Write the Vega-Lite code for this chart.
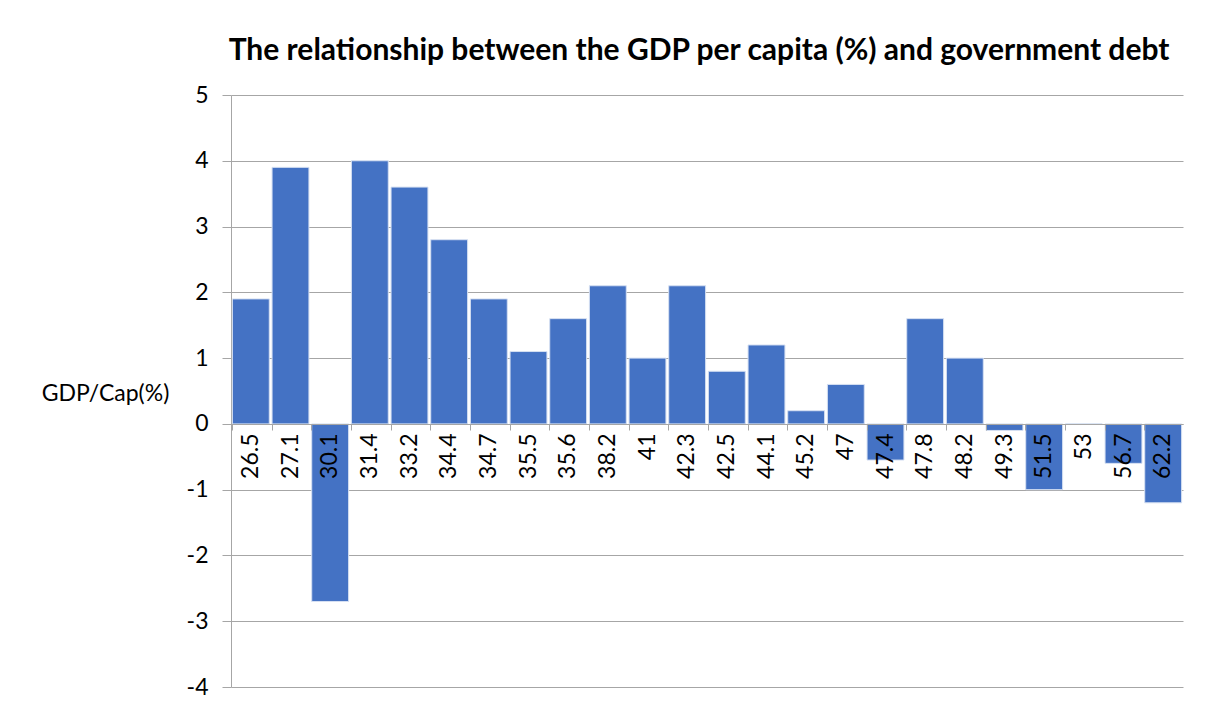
{
  "$schema": "https://vega.github.io/schema/vega-lite/v6.json",
  "autosize": "none",
  "width": 952,
  "height": 592,
  "padding": {"left": 231, "top": 95, "right": 29, "bottom": 28},
  "background": "white",
  "config": {
    "view": {"stroke": null},
    "font": "Lato"
  },
  "title": {
    "text": "The relationship between the GDP per capita (%) and government debt",
    "font": "Lato",
    "fontSize": 30,
    "fontWeight": "bold",
    "color": "#000000",
    "anchor": "middle",
    "dx": -8,
    "offset": 18
  },
  "data": {
    "values": [
      {"debt": "26.5", "gdp": 1.9},
      {"debt": "27.1", "gdp": 3.9},
      {"debt": "30.1", "gdp": -2.7},
      {"debt": "31.4", "gdp": 4.0},
      {"debt": "33.2", "gdp": 3.6},
      {"debt": "34.4", "gdp": 2.8},
      {"debt": "34.7", "gdp": 1.9},
      {"debt": "35.5", "gdp": 1.1},
      {"debt": "35.6", "gdp": 1.6},
      {"debt": "38.2", "gdp": 2.1},
      {"debt": "41", "gdp": 1.0},
      {"debt": "42.3", "gdp": 2.1},
      {"debt": "42.5", "gdp": 0.8},
      {"debt": "44.1", "gdp": 1.2},
      {"debt": "45.2", "gdp": 0.2},
      {"debt": "47", "gdp": 0.6},
      {"debt": "47.4", "gdp": -0.55},
      {"debt": "47.8", "gdp": 1.6},
      {"debt": "48.2", "gdp": 1.0},
      {"debt": "49.3", "gdp": -0.1},
      {"debt": "51.5", "gdp": -1.0},
      {"debt": "53", "gdp": 0},
      {"debt": "56.7", "gdp": -0.6},
      {"debt": "62.2", "gdp": -1.2}
    ]
  },
  "mark": {"type": "bar", "color": "#4472C4", "stroke": "#D6E0F2", "strokeWidth": 1},
  "encoding": {
    "x": {
      "field": "debt",
      "type": "nominal",
      "sort": null,
      "scale": {"paddingInner": 0.07, "paddingOuter": 0.035},
      "axis": {
        "title": null,
        "orient": "bottom",
        "offset": -263,
        "labelAngle": 270,
        "labelFontSize": 23,
        "labelColor": "#000000",
        "labelPadding": 3,
        "domainColor": "#a6a6a6",
        "tickColor": "#a6a6a6",
        "tickSize": 6,
        "bandPosition": 0,
        "zindex": 1,
        "grid": false
      }
    },
    "y": {
      "field": "gdp",
      "type": "quantitative",
      "scale": {"domain": [-4, 5], "nice": false, "zero": false},
      "axis": {
        "values": [-4, -3, -2, -1, 0, 1, 2, 3, 4, 5],
        "labelExpr": "toString(datum.value)",
        "labelFontSize": 23,
        "labelColor": "#000000",
        "labelPadding": 14,
        "tickSize": 9,
        "tickColor": "#a6a6a6",
        "domainColor": "#a6a6a6",
        "gridColor": "#a6a6a6",
        "grid": true,
        "title": "GDP/Cap(%)",
        "titleAngle": 0,
        "titleX": -126,
        "titleY": 298,
        "titleAlign": "center",
        "titleBaseline": "middle",
        "titleFontSize": 23,
        "titleFontWeight": "normal",
        "titleColor": "#000000"
      }
    }
  }
}
